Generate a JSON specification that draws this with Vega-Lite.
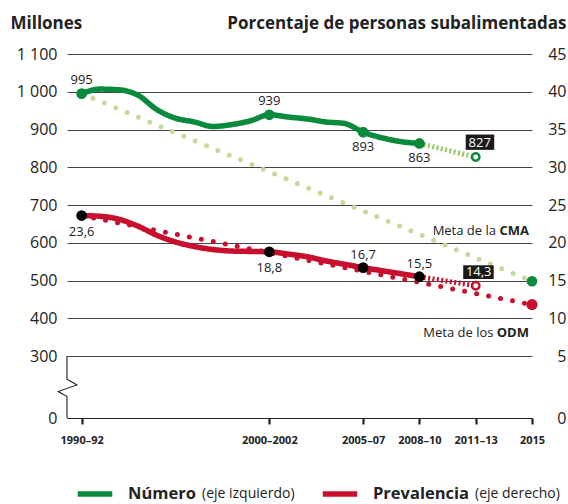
{
  "$schema": "https://vega.github.io/schema/vega-lite/v6.json",
  "width": 465,
  "height": 364,
  "autosize": "none",
  "padding": {"left": 67, "top": 54, "right": 36, "bottom": 86},
  "background": "white",
  "config": {
    "view": {"stroke": null},
    "font": "Open Sans",
    "axis": {"labelFont": "Open Sans", "titleFont": "Open Sans"},
    "legend": {"labelFont": "Open Sans"},
    "text": {"font": "Open Sans"}
  },
  "datasets": {
    "numero": [
      {"year": 1991, "value": 995}, {"year": 1992, "value": 1007}, {"year": 1993, "value": 1005},
      {"year": 1994, "value": 991}, {"year": 1995, "value": 953}, {"year": 1996, "value": 930},
      {"year": 1997, "value": 920}, {"year": 1998, "value": 908}, {"year": 1999, "value": 913},
      {"year": 2000, "value": 923}, {"year": 2001, "value": 939}, {"year": 2002, "value": 933},
      {"year": 2003, "value": 928}, {"year": 2004, "value": 920}, {"year": 2005, "value": 916},
      {"year": 2006, "value": 893}, {"year": 2007, "value": 878}, {"year": 2008, "value": 868},
      {"year": 2009, "value": 863}
    ],
    "numero_proj": [{"year": 2009, "value": 863}, {"year": 2012, "value": 827}],
    "cma": [{"year": 1991, "value": 995}, {"year": 2015, "value": 498}],
    "cma_end": [{"year": 2015, "value": 498}],
    "numero_pts": [
      {"year": 1991, "value": 995, "label": "995"},
      {"year": 2001, "value": 939, "label": "939"},
      {"year": 2006, "value": 893, "label": "893"},
      {"year": 2009, "value": 863, "label": "863"}
    ],
    "numero_est": [{"year": 2012, "value": 827, "label": "827"}],
    "notes_bold": [
      {"year": 2015, "value": 620, "text": "CMA"},
      {"year": 2015, "value": 350, "text": "ODM"}
    ],
    "notes_plain": [
      {"year": 2015, "value": 620, "text": "Meta de la"},
      {"year": 2015, "value": 350, "text": "Meta de los"}
    ],
    "axis_break": [
      {"i": 1, "year": 1990.22, "value": 300},
      {"i": 2, "year": 1990.22, "value": 188},
      {"i": 3, "year": 1990.75, "value": 160},
      {"i": 4, "year": 1989.75, "value": 128},
      {"i": 5, "year": 1990.22, "value": 104},
      {"i": 6, "year": 1990.22, "value": 0}
    ],
    "prev": [
      {"year": 1991, "value": 23.6}, {"year": 1992, "value": 23.5}, {"year": 1993, "value": 23.1},
      {"year": 1994, "value": 22.2}, {"year": 1995, "value": 21.0}, {"year": 1996, "value": 20.1},
      {"year": 1997, "value": 19.5}, {"year": 1998, "value": 19.1}, {"year": 1999, "value": 18.9},
      {"year": 2000, "value": 18.85}, {"year": 2001, "value": 18.8}, {"year": 2002, "value": 18.5},
      {"year": 2003, "value": 18.15}, {"year": 2004, "value": 17.6}, {"year": 2005, "value": 17.15},
      {"year": 2006, "value": 16.7}, {"year": 2007, "value": 16.3}, {"year": 2008, "value": 15.9},
      {"year": 2009, "value": 15.5}
    ],
    "prev_proj": [{"year": 2009, "value": 15.5}, {"year": 2012, "value": 14.3}],
    "odm": [{"year": 1991, "value": 23.6}, {"year": 2015, "value": 11.8}],
    "odm_end": [{"year": 2015, "value": 11.8}],
    "prev_pts": [
      {"year": 1991, "value": 23.6, "label": "23,6"},
      {"year": 2001, "value": 18.8, "label": "18,8"},
      {"year": 2006, "value": 16.7, "label": "16,7"},
      {"year": 2009, "value": 15.5, "label": "15,5"}
    ],
    "prev_est": [{"year": 2012, "value": 14.3, "label": "14,3"}]
  },
  "encoding": {
    "x": {
      "field": "year",
      "type": "quantitative",
      "scale": {"domain": [1990.22, 2015], "nice": false, "zero": false},
      "axis": {
        "values": [1991, 2001, 2006, 2009, 2012, 2015],
        "labelExpr": "datum.value == 1991 ? '1990–92' : datum.value == 2001 ? '2000–2002' : datum.value == 2006 ? '2005–07' : datum.value == 2009 ? '2008–10' : datum.value == 2012 ? '2011–13' : '2015'",
        "grid": false,
        "domain": true,
        "domainColor": "#222",
        "domainWidth": 1.2,
        "ticks": true,
        "tickSize": 6,
        "tickWidth": 2.2,
        "tickColor": "#222",
        "labelFontSize": 11,
        "labelFontWeight": "bold",
        "labelColor": "#222",
        "labelPadding": 10,
        "labelFlush": false,
        "labelOverlap": false,
        "title": null
      }
    }
  },
  "layer": [
    {
      "encoding": {
        "y": {
          "field": "value",
          "type": "quantitative",
          "scale": {"domain": [0, 300, 1100], "range": [364, 302, 0], "nice": false, "zero": false},
          "axis": {
            "values": [0, 300, 400, 500, 600, 700, 800, 900, 1000, 1100],
            "labelExpr": "datum.value == 1100 ? '1 100' : datum.value == 1000 ? '1 000' : '' + datum.value",
            "grid": true,
            "gridColor": "#444",
            "gridWidth": 1,
            "domain": false,
            "ticks": false,
            "tickSize": 0,
            "labelFontSize": 16,
            "labelColor": "#222",
            "labelPadding": 10,
            "title": "Millones",
            "titleAngle": 0,
            "titleAlign": "left",
            "titleBaseline": "alphabetic",
            "titleX": -57,
            "titleY": -26,
            "titleFontSize": 17,
            "titleFontWeight": "bold",
            "titleColor": "#222"
          }
        }
      },
      "layer": [
        {
          "data": {"name": "cma"},
          "mark": {"type": "line", "color": "#c5d99b", "strokeWidth": 5, "strokeDash": [0, 12.3], "strokeCap": "round"},
          "encoding": {}
        },
        {
          "data": {"name": "numero_proj"},
          "mark": {"type": "line", "color": "#9cc65e", "strokeWidth": 5, "strokeDash": [2, 2.4]},
          "encoding": {}
        },
        {
          "data": {"name": "numero"},
          "mark": {"type": "line", "interpolate": "monotone", "strokeWidth": 5.5, "strokeCap": "round", "strokeJoin": "round"},
          "encoding": {
            "color": {
              "datum": "Número",
              "type": "nominal",
              "scale": {"domain": ["Número", "Prevalencia"], "range": ["#0a8a3d", "#c8102e"]},
              "legend": {
                "orient": "none",
                "legendX": 8,
                "legendY": 420,
                "direction": "horizontal",
                "columns": 2,
                "columnPadding": 115,
                "padding": 0,
                "title": null,
                "symbolType": "stroke",
                "symbolSize": 1190,
                "symbolStrokeWidth": 5.5,
                "labelFontSize": 16.5,
                "labelFontWeight": "bold",
                "labelColor": "#222",
                "labelOffset": 13,
                "labelLimit": 300
              }
            },
            "strokeDash": {
              "datum": "(eje izquierdo)",
              "type": "nominal",
              "scale": {"domain": ["(eje izquierdo)", "(eje derecho)"], "range": [[1, 0], [1, 0]]},
              "legend": {
                "orient": "none",
                "legendX": 121,
                "legendY": 433,
                "direction": "horizontal",
                "columns": 2,
                "columnPadding": 166,
                "padding": 0,
                "title": null,
                "symbolType": "circle",
                "symbolSize": 0,
                "symbolStrokeWidth": 0,
                "symbolOpacity": 0,
                "labelFontSize": 14,
                "labelFontWeight": "normal",
                "labelColor": "#222",
                "labelOffset": 0,
                "labelLimit": 300
              }
            }
          }
        },
        {
          "data": {"name": "numero_pts"},
          "mark": {"type": "point", "filled": true, "size": 115, "color": "#0a8a3d", "opacity": 1},
          "encoding": {}
        },
        {
          "data": {"name": "cma_end"},
          "mark": {"type": "point", "filled": true, "size": 115, "color": "#0a8a3d", "opacity": 1},
          "encoding": {}
        },
        {
          "data": {"name": "numero_est"},
          "mark": {"type": "point", "filled": true, "fill": "white", "stroke": "#0a8a3d", "strokeWidth": 2.5, "size": 55, "opacity": 1},
          "encoding": {}
        },
        {
          "data": {"name": "numero_pts"},
          "transform": [{"filter": "datum.year <= 2001"}],
          "mark": {"type": "text", "baseline": "alphabetic", "dy": -10, "fontSize": 13, "color": "#222"},
          "encoding": {"text": {"field": "label"}}
        },
        {
          "data": {"name": "numero_pts"},
          "transform": [{"filter": "datum.year > 2001"}],
          "mark": {"type": "text", "baseline": "top", "dy": 9, "fontSize": 13, "color": "#222"},
          "encoding": {"text": {"field": "label"}}
        },
        {
          "data": {"name": "numero_est"},
          "mark": {"type": "point", "shape": "M-1,-2.25H1.85V-0.72H-1Z", "filled": true, "size": 400, "color": "#1a1a1a", "opacity": 1},
          "encoding": {}
        },
        {
          "data": {"name": "numero_est"},
          "mark": {"type": "text", "baseline": "middle", "dx": 4, "dy": -14.5, "fontSize": 13, "color": "white"},
          "encoding": {"text": {"field": "label"}}
        },
        {
          "data": {"name": "notes_plain"},
          "transform": [{"filter": "datum.text == 'Meta de la'"}],
          "mark": {"type": "text", "align": "right", "baseline": "alphabetic", "dx": -36, "fontSize": 13, "color": "#222"},
          "encoding": {"text": {"field": "text"}}
        },
        {
          "data": {"name": "notes_plain"},
          "transform": [{"filter": "datum.text == 'Meta de los'"}],
          "mark": {"type": "text", "align": "right", "baseline": "alphabetic", "dx": -38.5, "fontSize": 13, "color": "#222"},
          "encoding": {"text": {"field": "text"}}
        },
        {
          "data": {"name": "notes_bold"},
          "mark": {"type": "text", "align": "right", "baseline": "alphabetic", "dx": -3, "fontSize": 13, "fontWeight": "bold", "color": "#222"},
          "encoding": {"text": {"field": "text"}}
        },
        {
          "data": {"name": "axis_break"},
          "mark": {"type": "line", "color": "#222", "strokeWidth": 1.1, "clip": false},
          "encoding": {"order": {"field": "i", "type": "quantitative"}}
        }
      ]
    },
    {
      "encoding": {
        "y": {
          "field": "value",
          "type": "quantitative",
          "scale": {"domain": [0, 5, 45], "range": [364, 302, 0], "nice": false, "zero": false},
          "axis": {
            "orient": "right",
            "values": [0, 5, 10, 15, 20, 25, 30, 35, 40, 45],
            "grid": false,
            "domain": false,
            "ticks": false,
            "tickSize": 0,
            "labelFontSize": 16,
            "labelColor": "#222",
            "labelAlign": "right",
            "labelPadding": 34,
            "title": "Porcentaje de personas subalimentadas",
            "titleAngle": 0,
            "titleAlign": "right",
            "titleBaseline": "alphabetic",
            "titleX": 34,
            "titleY": -26,
            "titleFontSize": 17,
            "titleFontWeight": "bold",
            "titleColor": "#222"
          }
        }
      },
      "layer": [
        {
          "data": {"name": "odm"},
          "mark": {"type": "line", "color": "#c8102e", "strokeWidth": 5, "strokeDash": [0, 12.2], "strokeCap": "round"},
          "encoding": {}
        },
        {
          "data": {"name": "prev_proj"},
          "mark": {"type": "line", "color": "#c8102e", "strokeWidth": 5, "strokeDash": [2, 2.4]},
          "encoding": {}
        },
        {
          "data": {"name": "prev"},
          "mark": {"type": "line", "interpolate": "monotone", "strokeWidth": 5.5, "strokeCap": "round", "strokeJoin": "round"},
          "encoding": {
            "color": {
              "datum": "Prevalencia",
              "type": "nominal",
              "scale": {"domain": ["Número", "Prevalencia"], "range": ["#0a8a3d", "#c8102e"]},
              "legend": {
                "orient": "none",
                "legendX": 8,
                "legendY": 420,
                "direction": "horizontal",
                "columns": 2,
                "columnPadding": 115,
                "padding": 0,
                "title": null,
                "symbolType": "stroke",
                "symbolSize": 1190,
                "symbolStrokeWidth": 5.5,
                "labelFontSize": 16.5,
                "labelFontWeight": "bold",
                "labelColor": "#222",
                "labelOffset": 13,
                "labelLimit": 300
              }
            },
            "strokeDash": {
              "datum": "(eje derecho)",
              "type": "nominal",
              "scale": {"domain": ["(eje izquierdo)", "(eje derecho)"], "range": [[1, 0], [1, 0]]},
              "legend": {
                "orient": "none",
                "legendX": 121,
                "legendY": 433,
                "direction": "horizontal",
                "columns": 2,
                "columnPadding": 166,
                "padding": 0,
                "title": null,
                "symbolType": "circle",
                "symbolSize": 0,
                "symbolStrokeWidth": 0,
                "symbolOpacity": 0,
                "labelFontSize": 14,
                "labelFontWeight": "normal",
                "labelColor": "#222",
                "labelOffset": 0,
                "labelLimit": 300
              }
            }
          }
        },
        {
          "data": {"name": "prev_pts"},
          "mark": {"type": "point", "filled": true, "size": 115, "color": "#000000", "opacity": 1},
          "encoding": {}
        },
        {
          "data": {"name": "odm_end"},
          "mark": {"type": "point", "filled": true, "size": 125, "color": "#c8102e", "opacity": 1},
          "encoding": {}
        },
        {
          "data": {"name": "prev_est"},
          "mark": {"type": "point", "filled": true, "fill": "white", "stroke": "#c8102e", "strokeWidth": 2.5, "size": 55, "opacity": 1},
          "encoding": {}
        },
        {
          "data": {"name": "prev_pts"},
          "transform": [{"filter": "datum.year <= 2001"}],
          "mark": {"type": "text", "baseline": "top", "dy": 10, "fontSize": 13, "color": "#222"},
          "encoding": {"text": {"field": "label"}}
        },
        {
          "data": {"name": "prev_pts"},
          "transform": [{"filter": "datum.year > 2001"}],
          "mark": {"type": "text", "baseline": "alphabetic", "dy": -9, "fontSize": 13, "color": "#222"},
          "encoding": {"text": {"field": "label"}}
        },
        {
          "data": {"name": "prev_est"},
          "mark": {"type": "point", "shape": "M-1.25,-2.05H1.8V-0.68H-1.25Z", "filled": true, "size": 400, "color": "#1a1a1a", "opacity": 1},
          "encoding": {}
        },
        {
          "data": {"name": "prev_est"},
          "mark": {"type": "text", "baseline": "middle", "dx": 3, "dy": -13.5, "fontSize": 13, "color": "white"},
          "encoding": {"text": {"field": "label"}}
        }
      ]
    }
  ],
  "resolve": {"scale": {"y": "independent"}, "axis": {"y": "independent"}}
}
